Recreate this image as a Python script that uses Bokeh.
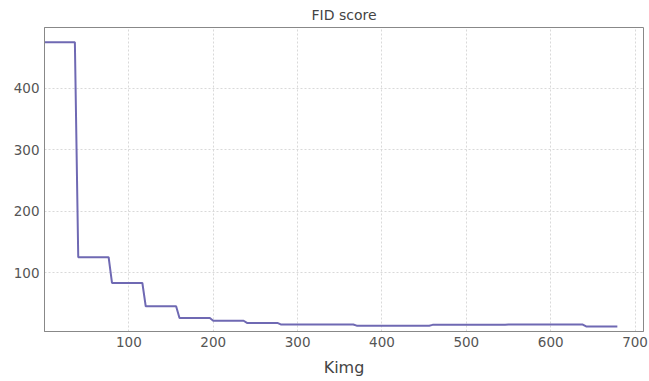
from bokeh.plotting import figure
from bokeh.models import FixedTicker, Range1d
from bokeh.embed import file_html
from bokeh.resources import INLINE

kimg = [0, 36, 40, 76, 80, 116, 120, 156, 160, 196, 200, 236, 240, 276, 280,
        366, 370, 456, 460, 546, 550, 638, 642, 679]
fid = [475, 475, 125, 125, 83, 83, 45, 45, 26, 26, 21.5, 21.5, 18, 18, 15.5,
       15.5, 13.5, 13.5, 14.8, 14.8, 15.3, 15.3, 12.2, 12.2]
x_ticks = [100, 200, 300, 400, 500, 600, 700]
y_ticks = [100, 200, 300, 400]

FONT = "DejaVu Sans"

p = figure(frame_width=599, frame_height=304, output_backend="svg", toolbar_location=None,
           title="FID score", x_range=Range1d(0, 710), y_range=Range1d(4, 499),
           min_border_left=44, min_border_right=6, min_border_top=27,
           min_border_bottom=50)

p.line(kimg, fid, line_color="#6f69b3", line_width=2)

p.title.align = "center"
p.title.text_font = FONT
p.title.text_font_size = "14px"
p.title.text_font_style = "normal"
p.title.text_color = "#444444"
p.title.standoff = 9

p.outline_line_color = "#888888"
p.outline_line_width = 1

for ax in (p.xaxis, p.yaxis):
    ax.axis_line_color = "#888888"
    ax.major_tick_line_color = None
    ax.minor_tick_line_color = None
    ax.major_tick_out = 0
    ax.major_tick_in = 0
    ax.major_label_text_font = FONT
    ax.major_label_text_font_size = "13.5px"
    ax.major_label_text_color = "#555555"
    ax.major_label_standoff = 5

p.xaxis.ticker = FixedTicker(ticks=x_ticks)
p.yaxis.ticker = FixedTicker(ticks=y_ticks)
p.xaxis.axis_label = "Kimg"
p.xaxis.axis_label_text_font = FONT
p.xaxis.axis_label_text_font_size = "16px"
p.xaxis.axis_label_text_font_style = "normal"
p.xaxis.axis_label_text_color = "#444444"
p.xaxis.axis_label_standoff = 8

p.xgrid.ticker = FixedTicker(ticks=x_ticks)
p.ygrid.ticker = FixedTicker(ticks=y_ticks)
for g in (p.xgrid, p.ygrid):
    g.grid_line_color = "#d9d9d9"
    g.grid_line_dash = "2 2"
    g.grid_line_width = 1

open("out.html", "w").write(file_html(p, INLINE))
